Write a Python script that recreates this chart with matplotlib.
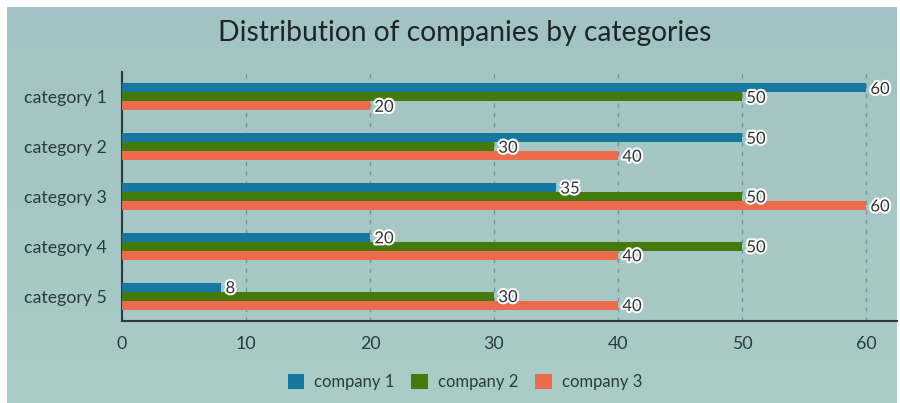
import matplotlib

matplotlib.use("Agg")
import matplotlib.pyplot as plt
import matplotlib.patheffects as pe
import numpy as np
from matplotlib.patches import Patch

plt.rcParams["font.family"] = ["Lato", "DejaVu Sans"]

categories = ["category 1", "category 2", "category 3", "category 4", "category 5"]
series_names = ["company 1", "company 2", "company 3"]
company1 = [60, 50, 35, 20, 8]
company2 = [50, 30, 50, 50, 30]
company3 = [20, 40, 60, 40, 40]
colors = ["#16789f", "#447a0c", "#ec6b4c"]
xticks = [0, 10, 20, 30, 40, 50, 60]

TEXT = "#2b3a3f"

fig = plt.figure(figsize=(9, 4.03), dpi=100, facecolor="white")

# teal panel with a soft vertical gradient
bg = fig.add_axes([7 / 900, 0, 890 / 900, 396 / 403], zorder=-10)
grad = np.linspace(0, 1, 256).reshape(-1, 1)
top = np.array([0.635, 0.765, 0.765])
bot = np.array([0.665, 0.800, 0.780])
img = top + (bot - top) * grad[..., None]
bg.imshow(img, aspect="auto", extent=[0, 1, 0, 1], origin="upper")
bg.set_axis_off()

ax = fig.add_axes([122 / 900, 1 - 321 / 403, 775 / 900, 249 / 403])
ax.set_facecolor("none")

y = np.arange(len(categories))
h = 0.18
for i, (vals, c) in enumerate(zip([company1, company2, company3], colors)):
    pos = y + (i - 1) * h
    ax.barh(pos, vals, height=h, color=c, zorder=3)
    for p, v in zip(pos, vals):
        ax.text(v + 0.35, p + 0.02, f"{v}", va="center", ha="left", fontsize=12,
                color="#333", zorder=5,
                path_effects=[pe.withStroke(linewidth=3, foreground="white")])

ax.set_xlim(0, 62.5)
ax.set_ylim(len(categories) - 0.5, -0.5)
ax.set_yticks(y)
ax.set_yticklabels(categories)
ax.set_xticks(xticks)
ax.tick_params(axis="both", length=0, labelsize=12.8, colors=TEXT)
ax.tick_params(axis="x", pad=11)
ax.tick_params(axis="y", pad=11)
ax.xaxis.grid(True, linestyle=(0, (3, 4)), color="#7a9495", linewidth=1, zorder=0)
ax.set_axisbelow(True)
for s in ["top", "right"]:
    ax.spines[s].set_visible(False)
for s in ["left", "bottom"]:
    ax.spines[s].set_color(TEXT)
    ax.spines[s].set_linewidth(1.5)

fig.text(465 / 900, 1 - 33 / 403, "Distribution of companies by categories",
         ha="center", va="center", fontsize=20.3, color="#1e2526")

handles = [Patch(facecolor=c, label=n) for c, n in zip(colors, series_names)]
fig.legend(handles=handles, loc="center", bbox_to_anchor=(465 / 900, 1 - 382 / 403),
           ncol=3, frameon=False, fontsize=12, handlelength=1.0, handleheight=1.0,
           columnspacing=1.0, handletextpad=0.6, labelcolor=TEXT)

fig.savefig("out.png", dpi=100, facecolor="white")
